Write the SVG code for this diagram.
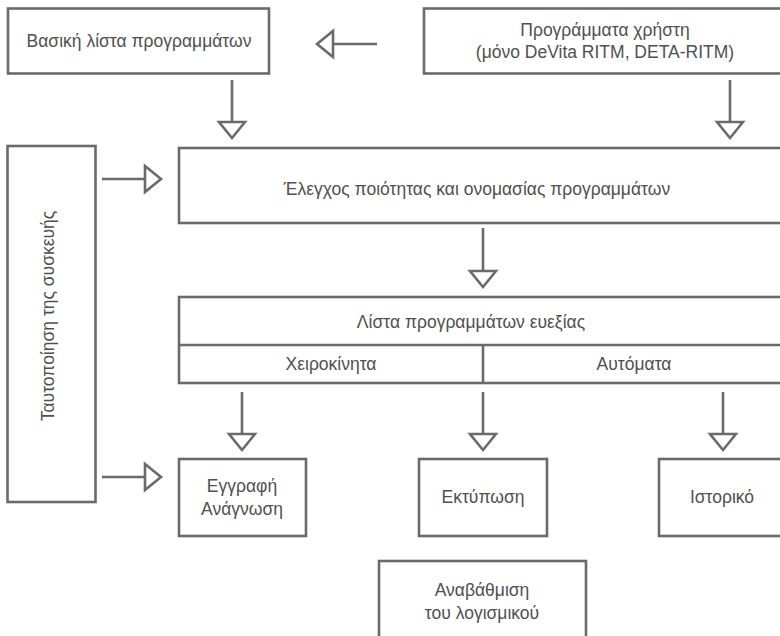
<svg xmlns="http://www.w3.org/2000/svg" width="780" height="636" viewBox="0 0 780 636">
<style>
.box{fill:#fff;stroke:#6a6a6a;stroke-width:2.6}
.ln{fill:none;stroke:#6a6a6a;stroke-width:2.6}
.c{stroke:#6a6a6a;stroke-width:2.6;fill:none;marker-end:url(#ah)}
text{font-family:"Liberation Sans",Arial,sans-serif;font-size:17.5px;fill:#505050;text-anchor:middle}
</style>
<defs>
<marker id="ah" markerUnits="userSpaceOnUse" viewBox="-3 -17 22 34" markerWidth="22" markerHeight="34" refX="0" refY="0" orient="auto">
<path d="M0,-13 L16,0 L0,13 Z" fill="#fff" stroke="#6a6a6a" stroke-width="2.6" stroke-linejoin="miter"/>
</marker>
</defs>
<rect width="780" height="636" fill="#fff"/>
<g id="connectors">
<line class="c" x1="377" y1="44" x2="333" y2="44"/>
<line class="c" x1="232" y1="80" x2="232" y2="122"/>
<line class="c" x1="730" y1="80" x2="730" y2="122"/>
<line class="c" x1="102" y1="179" x2="145" y2="179"/>
<line class="c" x1="483" y1="228" x2="483" y2="271"/>
<line class="c" x1="242" y1="392" x2="242" y2="434"/>
<line class="c" x1="483" y1="392" x2="483" y2="434"/>
<line class="c" x1="723" y1="392" x2="723" y2="434"/>
<line class="c" x1="102" y1="477" x2="145" y2="477"/>
</g>
<g id="basic-list">
<rect class="box" x="8" y="8.5" width="261" height="65"/>
<text x="139" y="47">Βασική λίστα προγραμμάτων</text>
</g>
<g id="user-programs">
<rect class="box" x="424" y="8.5" width="364" height="65"/>
<text x="605" y="36">Προγράμματα χρήστη</text>
<text x="605" y="58">(μόνο DeVita RITM, DETA-RITM)</text>
</g>
<g id="device-id">
<rect class="box" x="7.5" y="146" width="88" height="356"/>
<text transform="translate(54,316) rotate(-90)">Ταυτοποίηση της συσκευής</text>
</g>
<g id="quality-check">
<rect class="box" x="179" y="148" width="612" height="75"/>
<text x="477" y="195">Έλεγχος ποιότητας και ονομασίας προγραμμάτων</text>
</g>
<g id="wellness-list">
<rect class="box" x="179" y="297" width="608" height="86"/>
<line class="ln" x1="179" y1="345" x2="787" y2="345"/>
<line class="ln" x1="483" y1="345" x2="483" y2="383"/>
<text x="471" y="328">Λίστα προγραμμάτων ευεξίας</text>
<text x="331" y="370">Χειροκίνητα</text>
<text x="634" y="370">Αυτόματα</text>
</g>
<g id="write-read">
<rect class="box" x="179" y="459" width="127" height="77"/>
<text x="242" y="492">Εγγραφή</text>
<text x="242" y="515">Ανάγνωση</text>
</g>
<g id="print">
<rect class="box" x="419" y="459" width="128" height="77"/>
<text x="483" y="503">Εκτύπωση</text>
</g>
<g id="history">
<rect class="box" x="659" y="459" width="128" height="77"/>
<text x="722" y="503">Ιστορικό</text>
</g>
<g id="upgrade">
<rect class="box" x="379" y="561" width="207" height="90"/>
<text x="482" y="596">Αναβάθμιση</text>
<text x="482" y="619">του λογισμικού</text>
</g>
</svg>
